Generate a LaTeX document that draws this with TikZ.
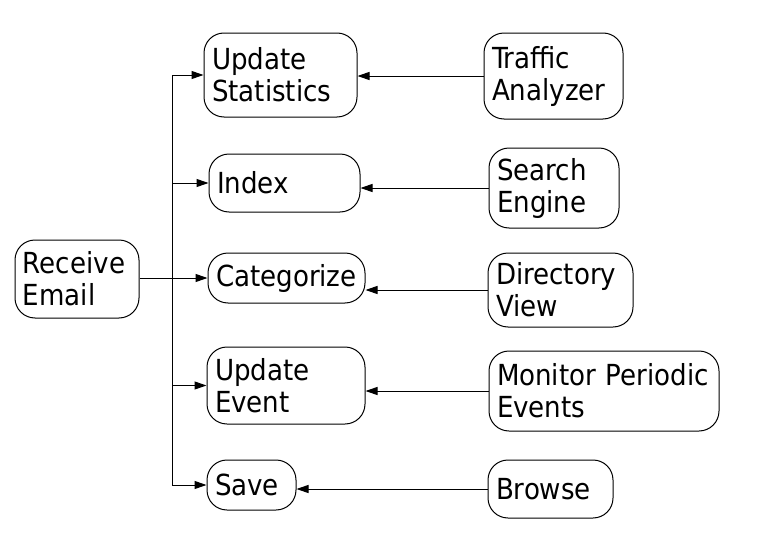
\documentclass[tikz,border=0pt]{standalone}
\usepackage{fontspec}
\setmainfont{DejaVu Sans Condensed}
\usetikzlibrary{arrows.meta}
\begin{document}
\begin{tikzpicture}[
            x=1pt, y=-1pt,
            caixa/.style={draw=black, rounded corners=20pt, line width=1pt, align=left,
                inner xsep=8pt, inner ysep=0pt, font=\fontsize{29}{32}\selectfont},
            seta/.style={line width=1pt, -{Triangle[length=12pt, width=8pt]}},
        ]
        \useasboundingbox (0,0) rectangle (764,538);

        \node[caixa, text width=108pt, minimum height=78pt] (recv) at (77, 279) {Receive\\Email};
        \node[caixa, text width=137pt, minimum height=84pt] (stat) at (280.5, 75) {Update\\Statistics};
        \node[caixa, text width=135pt, minimum height=58pt] (idx) at (284.5, 183) {Index};
        \node[caixa, text width=141pt, minimum height=50pt] (cat) at (286.5, 278) {Categorize};
        \node[caixa, text width=142pt, minimum height=77pt] (evt) at (286, 385.5) {Update\\Event};
        \node[caixa, text width=73pt, minimum height=50pt] (save) at (251.5, 485) {Save};

        \node[caixa, text width=123pt, minimum height=86pt] (traf) at (553.5, 76) {Traffic\\Analyzer};
        \node[caixa, text width=114pt, minimum height=80pt] (busca) at (554, 188) {Search\\Engine};
        \node[caixa, text width=129pt, minimum height=74pt] (dir) at (560.5, 290) {Directory\\View};
        \node[caixa, text width=214pt, minimum height=80pt] (mon) at (604, 391) {Monitor Periodic\\Events};
        \node[caixa, text width=109pt, minimum height=58pt] (brw) at (550.5, 489) {Browse};

        % barramento de saida do Receive Email
        \coordinate (bus) at (172, 277);
        \draw[seta] (recv.east |- cat.west) -- (cat.west);
        \draw[seta] (bus) |- (stat.west);
        \draw[seta] (bus) |- (idx.west);
        \draw[seta] (bus) |- (evt.west);
        \draw[seta] (bus) |- (save.west);

        \draw[seta] (traf.west) -- (traf.west -| stat.east);
        \draw[seta] (busca.west) -- (busca.west -| idx.east);
        \draw[seta] (dir.west) -- (dir.west -| cat.east);
        \draw[seta] (mon.west) -- (mon.west -| evt.east);
        \draw[seta] (brw.west) -- (brw.west -| save.east);

    \end{tikzpicture}
\end{document}
